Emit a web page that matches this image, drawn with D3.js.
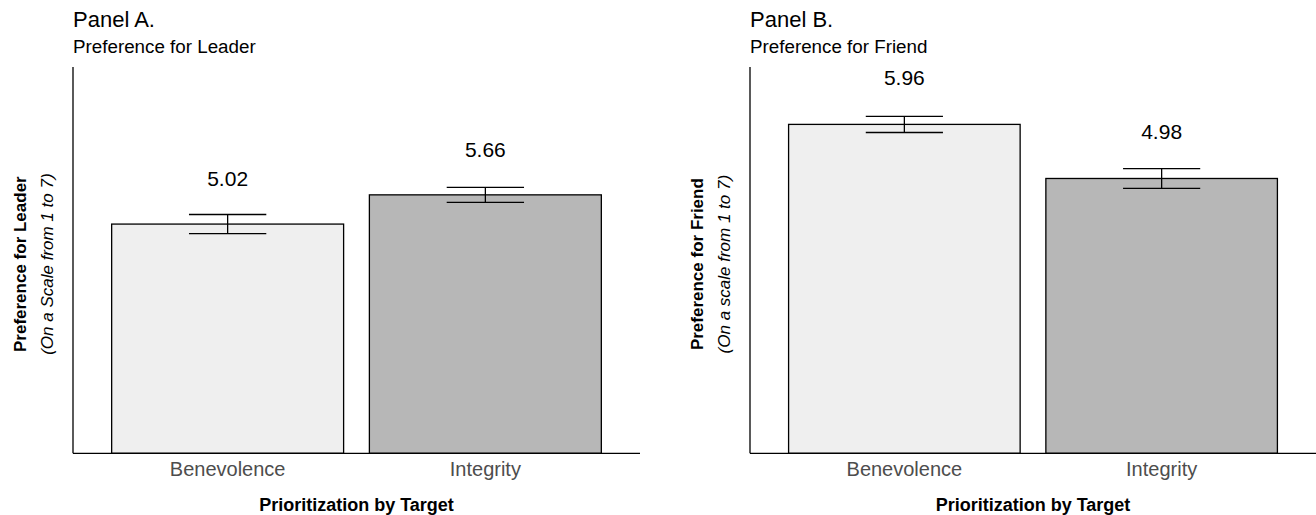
<!DOCTYPE html>
<html>
<head>
<meta charset="utf-8">
<script src="https://cdn.jsdelivr.net/npm/d3@7"></script>
<style>
  html, body { margin: 0; padding: 0; background: #fff; }
  svg { display: block; font-family: "Liberation Sans", Arial, sans-serif; }
</style>
</head>
<body>
<svg id="chart" width="1316" height="515"></svg>
<script>
// ---- data ----
const categories = ["Benevolence", "Integrity"];
const leaderMeans = [5.02, 5.66];
const leaderErrors = [0.21, 0.165];
const friendMeans = [5.96, 4.98];
const friendErrors = [0.147, 0.18];
const leaderLabels = ["5.02", "5.66"];
const friendLabels = ["5.96", "4.98"];
const barFills = ["#efefef", "#b7b7b7"];

const panels = [
  { title: "Panel A.", subtitle: "Preference for Leader",
    yTitle: "Preference for Leader", ySub: "(On a Scale from 1 to 7)",
    means: leaderMeans, errors: leaderErrors, labels: leaderLabels,
    yMax: 8.46, labelOffset: 1.0, x0: 73, x1: 640 },
  { title: "Panel B.", subtitle: "Preference for Friend",
    yTitle: "Preference for Friend", ySub: "(On a scale from 1 to 7)",
    means: friendMeans, errors: friendErrors, labels: friendLabels,
    yMax: 7, labelOffset: 0.85, x0: 750, x1: 1316 }
];

const svg = d3.select("#chart");
const yTop = 67, yBottom = 453.3;

panels.forEach(p => {
  const g = svg.append("g");
  const x = d3.scaleBand().domain(categories).range([p.x0, p.x1])
    .paddingInner(0.1).paddingOuter(0.15);
  const y = d3.scaleLinear().domain([0, p.yMax]).range([yBottom, yTop]);

  // title + subtitle
  g.append("text").attr("x", p.x0).attr("y", 27)
    .attr("font-size", 22).attr("fill", "#000").text(p.title);
  g.append("text").attr("x", p.x0).attr("y", 53)
    .attr("font-size", 18.8).attr("fill", "#000").text(p.subtitle);

  const data = categories.map((c, i) => ({ c, m: p.means[i], e: p.errors[i], l: p.labels[i], fill: barFills[i] }));

  // bars
  g.selectAll("rect.bar").data(data).enter().append("rect")
    .attr("class", "bar")
    .attr("x", d => x(d.c)).attr("width", x.bandwidth())
    .attr("y", d => y(d.m)).attr("height", d => y(0) - y(d.m))
    .attr("fill", d => d.fill).attr("stroke", "#000").attr("stroke-width", 1.3);

  // error bars
  const capW = x.step() * 0.3;
  const eb = g.selectAll("g.eb").data(data).enter().append("g")
    .attr("stroke", "#000").attr("stroke-width", 1.3);
  eb.append("line")
    .attr("x1", d => x(d.c) + x.bandwidth() / 2).attr("x2", d => x(d.c) + x.bandwidth() / 2)
    .attr("y1", d => y(d.m + d.e)).attr("y2", d => y(d.m - d.e));
  eb.append("line")
    .attr("x1", d => x(d.c) + x.bandwidth() / 2 - capW / 2).attr("x2", d => x(d.c) + x.bandwidth() / 2 + capW / 2)
    .attr("y1", d => y(d.m + d.e)).attr("y2", d => y(d.m + d.e));
  eb.append("line")
    .attr("x1", d => x(d.c) + x.bandwidth() / 2 - capW / 2).attr("x2", d => x(d.c) + x.bandwidth() / 2 + capW / 2)
    .attr("y1", d => y(d.m - d.e)).attr("y2", d => y(d.m - d.e));

  // value labels
  g.selectAll("text.val").data(data).enter().append("text")
    .attr("class", "val")
    .attr("x", d => x(d.c) + x.bandwidth() / 2)
    .attr("y", d => y(d.m + p.labelOffset))
    .attr("dy", "0.35em")
    .attr("text-anchor", "middle").attr("font-size", 21).attr("fill", "#000")
    .text(d => d.l);

  // axes
  const xAxis = g.append("g").attr("transform", `translate(0,${yBottom})`)
    .call(d3.axisBottom(x).tickSize(0).tickPadding(9));
  xAxis.select(".domain").attr("stroke", "#000").attr("stroke-width", 1.3)
    .attr("d", `M${p.x0},0H${p.x1}`);
  xAxis.selectAll(".tick text").attr("font-size", 20).attr("fill", "#4d4d4d")
    .attr("font-family", "Liberation Sans, Arial, sans-serif");

  const yAxis = g.append("g").attr("transform", `translate(${p.x0},0)`)
    .call(d3.axisLeft(y).tickSize(0).tickValues([]));
  yAxis.select(".domain").attr("stroke", "#000").attr("stroke-width", 1.3)
    .attr("d", `M0,${yTop}V${yBottom}`);

  // axis titles
  g.append("text").attr("x", (p.x0 + p.x1) / 2).attr("y", 511)
    .attr("text-anchor", "middle").attr("font-size", 18).attr("font-weight", "bold")
    .attr("fill", "#000").text("Prioritization by Target");

  const yc = (yTop + yBottom) / 2 + 4;
  g.append("text")
    .attr("transform", `translate(${p.x0 - 47},${yc}) rotate(-90)`)
    .attr("text-anchor", "middle").attr("font-size", 17).attr("font-weight", "bold")
    .attr("fill", "#000").text(p.yTitle);
  g.append("text")
    .attr("transform", `translate(${p.x0 - 20},${yc}) rotate(-90)`)
    .attr("text-anchor", "middle").attr("font-size", 17).attr("font-style", "italic")
    .attr("fill", "#000").text(p.ySub);
});
</script>
</body>
</html>
